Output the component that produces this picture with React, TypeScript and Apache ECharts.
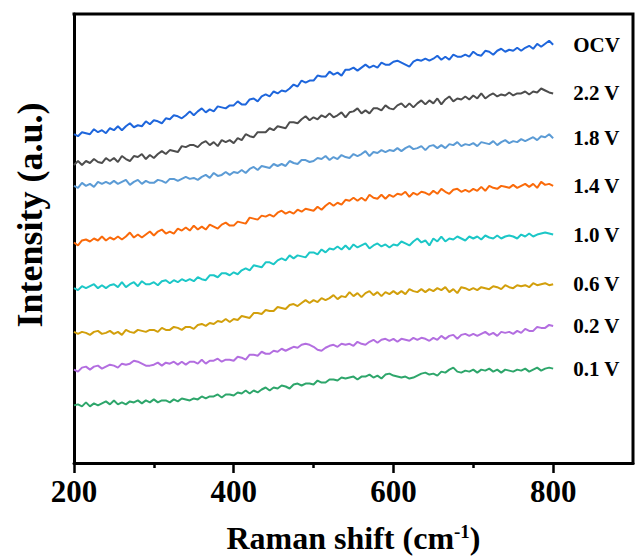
import React, { useEffect, useRef } from "react";
import * as echarts from "echarts";

const FONT = '"Liberation Serif", "Times New Roman", serif';

// Raman shift sampling grid (cm-1)
const RAMAN_SHIFT = [
  200, 205, 210, 215, 220, 225, 230, 235, 240, 245,
  250, 255, 260, 265, 270, 275, 280, 285, 290, 295,
  300, 305, 310, 315, 320, 325, 330, 335, 340, 345,
  350, 355, 360, 365, 370, 375, 380, 385, 390, 395,
  400, 405, 410, 415, 420, 425, 430, 435, 440, 445,
  450, 455, 460, 465, 470, 475, 480, 485, 490, 495,
  500, 505, 510, 515, 520, 525, 530, 535, 540, 545,
  550, 555, 560, 565, 570, 575, 580, 585, 590, 595,
  600, 605, 610, 615, 620, 625, 630, 635, 640, 645,
  650, 655, 660, 665, 670, 675, 680, 685, 690, 695,
  700, 705, 710, 715, 720, 725, 730, 735, 740, 745,
  750, 755, 760, 765, 770, 775, 780, 785, 790, 795,
  800,
];

// Stacked (offset) intensities, arbitrary units
const OCV = [
  331, 329, 333, 332, 331, 336, 333, 335, 332, 337,
  335, 339, 335, 339, 342, 338, 340, 339, 344, 341,
  345, 344, 342, 347, 346, 350, 349, 347, 350, 354,
  350, 354, 357, 353, 356, 354, 359, 358, 357, 360,
  360, 364, 361, 361, 366, 367, 364, 369, 371, 369,
  374, 372, 375, 374, 377, 381, 379, 385, 383, 385,
  385, 390, 389, 389, 394, 391, 393, 390, 396, 396,
  398, 395, 398, 401, 398, 400, 398, 403, 401, 401,
  404, 405, 403, 401, 399, 404, 406, 405, 407, 405,
  407, 410, 406, 409, 406, 411, 409, 409, 411, 409,
  414, 411, 410, 415, 414, 411, 415, 417, 414, 416,
  415, 418, 415, 418, 420, 417, 422, 419, 422, 425,
  421,
];

const V2_2 = [
  300, 304, 300, 304, 302, 306, 303, 302, 307, 304,
  307, 303, 309, 306, 304, 309, 308, 311, 306, 310,
  307, 311, 314, 311, 315, 314, 313, 319, 318, 320,
  320, 318, 322, 324, 320, 323, 319, 325, 323, 325,
  322, 327, 325, 331, 329, 328, 333, 333, 333, 337,
  335, 339, 338, 337, 343, 343, 342, 346, 349, 345,
  348, 346, 350, 348, 352, 348, 350, 353, 348, 353,
  354, 357, 352, 355, 352, 357, 357, 355, 360, 357,
  356, 360, 362, 358, 362, 358, 362, 365, 361, 365,
  362, 367, 361, 366, 369, 364, 367, 366, 369, 366,
  370, 367, 372, 367, 370, 372, 369, 371, 370, 373,
  370, 372, 372, 374, 371, 374, 373, 377, 375, 373,
  372,
];

const V1_8 = [
  279, 277, 282, 279, 281, 278, 283, 281, 283, 281,
  284, 281, 283, 285, 280, 283, 285, 281, 284, 282,
  282, 285, 284, 282, 286, 286, 284, 286, 288, 286,
  287, 285, 288, 290, 287, 292, 289, 290, 293, 290,
  293, 292, 295, 292, 296, 298, 295, 299, 298, 297,
  301, 299, 301, 299, 304, 302, 301, 305, 305, 303,
  304, 307, 306, 309, 305, 308, 306, 310, 308, 307,
  311, 309, 311, 314, 309, 313, 312, 315, 313, 315,
  314, 317, 314, 317, 319, 316, 317, 319, 315, 319,
  320, 317, 320, 317, 321, 320, 323, 319, 321, 320,
  322, 319, 323, 322, 321, 324, 320, 323, 325, 322,
  324, 323, 326, 324, 326, 328, 325, 329, 328, 331,
  327,
];

const V1_4 = [
  222, 219, 224, 225, 223, 226, 224, 228, 224, 227,
  225, 228, 225, 228, 232, 227, 230, 227, 230, 233,
  229, 233, 235, 231, 233, 231, 236, 234, 237, 234,
  239, 235, 238, 235, 240, 238, 236, 240, 242, 239,
  239, 243, 242, 241, 247, 246, 245, 249, 248, 250,
  248, 252, 254, 251, 253, 251, 255, 253, 256, 255,
  254, 258, 255, 259, 262, 259, 262, 260, 265, 264,
  267, 264, 267, 264, 270, 267, 266, 270, 266, 270,
  268, 271, 270, 273, 268, 272, 270, 273, 272, 270,
  274, 271, 276, 273, 271, 275, 276, 273, 275, 273,
  276, 274, 278, 274, 279, 277, 276, 279, 278, 277,
  280, 277, 279, 281, 278, 281, 277, 283, 280, 281,
  279,
];

const V1_0 = [
  176, 174, 178, 176, 178, 180, 176, 179, 176, 179,
  180, 177, 182, 177, 180, 182, 178, 183, 180, 180,
  182, 179, 183, 184, 181, 184, 182, 185, 183, 185,
  183, 187, 185, 184, 189, 189, 187, 191, 191, 189,
  192, 190, 194, 196, 194, 199, 198, 197, 202, 202,
  200, 204, 206, 204, 209, 206, 209, 208, 207, 212,
  212, 210, 215, 212, 216, 215, 218, 215, 219, 215,
  220, 217, 219, 221, 216, 219, 221, 218, 220, 217,
  220, 219, 223, 221, 219, 223, 226, 222, 224, 219,
  226, 223, 228, 223, 226, 225, 228, 226, 224, 228,
  226, 228, 225, 229, 227, 226, 229, 226, 228, 229,
  228, 226, 230, 228, 231, 228, 230, 231, 232, 231,
  230,
];

const V0_6 = [
  132, 130, 132, 131, 129, 132, 133, 130, 131, 133,
  130, 132, 129, 134, 132, 131, 134, 133, 132, 134,
  134, 132, 136, 134, 134, 137, 136, 134, 137, 137,
  135, 139, 140, 138, 141, 140, 143, 142, 145, 142,
  145, 144, 148, 147, 146, 151, 151, 150, 154, 153,
  153, 157, 156, 155, 159, 160, 158, 161, 164, 161,
  164, 162, 166, 164, 166, 169, 165, 168, 167, 172,
  168, 171, 167, 171, 173, 169, 172, 168, 172, 170,
  173, 170, 173, 170, 175, 173, 172, 175, 172, 175,
  173, 176, 174, 177, 172, 175, 171, 177, 176, 174,
  176, 174, 177, 176, 175, 178, 177, 175, 179, 177,
  176, 179, 178, 179, 177, 181, 179, 180, 181, 179,
  180,
];

const V0_2 = [
  94, 92, 96, 97, 94, 97, 98, 95, 97, 99,
  98, 96, 100, 99, 100, 103, 102, 100, 98, 98,
  99, 101, 98, 101, 100, 102, 99, 102, 99, 102,
  102, 100, 104, 100, 103, 103, 105, 102, 104, 104,
  103, 107, 106, 104, 109, 109, 108, 112, 110, 110,
  113, 112, 115, 113, 115, 117, 116, 119, 120, 119,
  117, 114, 113, 116, 118, 119, 117, 120, 119, 120,
  118, 122, 120, 119, 122, 124, 121, 124, 125, 123,
  125, 122, 125, 124, 123, 126, 124, 126, 125, 123,
  126, 124, 128, 125, 128, 129, 125, 129, 130, 128,
  130, 128, 130, 132, 129, 131, 128, 132, 131, 132,
  130, 133, 131, 135, 133, 133, 137, 136, 136, 139,
  138,
];

const V0_1 = [
  58, 59, 57, 61, 57, 60, 58, 60, 62, 59,
  63, 59, 61, 59, 62, 61, 63, 60, 63, 61,
  64, 61, 63, 63, 61, 64, 62, 65, 64, 63,
  65, 64, 67, 65, 67, 67, 69, 66, 69, 69,
  68, 71, 70, 73, 70, 73, 71, 74, 76, 73,
  76, 75, 78, 77, 75, 79, 80, 78, 80, 80,
  79, 83, 81, 81, 84, 84, 83, 86, 85, 86,
  87, 84, 87, 87, 89, 86, 88, 85, 89, 90,
  88, 87, 86, 87, 85, 86, 88, 90, 91, 89,
  90, 88, 92, 91, 94, 96, 92, 91, 93, 92,
  94, 91, 94, 93, 95, 92, 94, 91, 94, 93,
  92, 94, 93, 95, 92, 94, 96, 93, 95, 96,
  95,
];

const SERIES_NAMES = ["OCV", "2.2 V", "1.8 V", "1.4 V", "1.0 V", "0.6 V", "0.2 V", "0.1 V"];
const SERIES_VALUES = [OCV, V2_2, V1_8, V1_4, V1_0, V0_6, V0_2, V0_1];
const SERIES_COLORS = ["#1e66dc", "#4d4d4d", "#5b9bd5", "#fa6a0a", "#1cc7c7", "#d29f0b", "#b36ee0", "#2ea66b"];

const MAJOR_TICKS = [200, 400, 600, 800];
const MINOR_TICKS = [300, 500, 700];

// axis extents
const X_MIN = 200;
const X_MAX = 900;
const Y_MIN = 0;
const Y_MAX = 452;

const Y_TITLE = "Intensity (a.u.)";

// plot box (px)
const GRID = { left: 74, right: 2, top: 14, bottom: 94 };
const W = 635;
const H = 559;

export default function App() {
  const ref = useRef<HTMLDivElement>(null);

  useEffect(() => {
    if (!ref.current) return;
    const chart = echarts.init(ref.current, null, { renderer: "svg" });

    const spectra = SERIES_NAMES.map((name, i) => ({
      name,
      type: "line",
      data: RAMAN_SHIFT.map((x, j) => [x, SERIES_VALUES[i][j]]),
      showSymbol: false,
      symbol: "none",
      silent: true,
      lineStyle: { color: SERIES_COLORS[i], width: 2 },
      itemStyle: { color: SERIES_COLORS[i] },
      endLabel: {
        show: true,
        formatter: "{a}",
        distance: 20,
        color: "#000",
        fontSize: 21,
        fontWeight: "bold",
        fontFamily: FONT,
      },
      emphasis: { disabled: true },
    }));

    // closing edges of the plot frame (top and right), along the axis extents
    const frame = {
      name: "frame",
      type: "line",
      data: [
        [X_MIN, Y_MAX],
        [X_MAX, Y_MAX],
        [X_MAX, Y_MIN],
      ],
      showSymbol: false,
      symbol: "none",
      silent: true,
      clip: false,
      z: 5,
      lineStyle: { color: "#000", width: 3, cap: "square", join: "miter" },
      emphasis: { disabled: true },
    };

    chart.setOption({
      animation: false,
      backgroundColor: "#fff",
      grid: { ...GRID, containLabel: false },
      xAxis: [
        {
          type: "value",
          min: X_MIN,
          max: X_MAX,
          interval: 100,
          position: "bottom",
          name: "Raman shift (cm{sup|-1})",
          nameLocation: "middle",
          nameGap: 59,
          nameTextStyle: {
            color: "#000",
            fontSize: 32,
            fontWeight: "bold",
            fontFamily: FONT,
            rich: {
              sup: {
                color: "#000",
                fontSize: 19,
                fontWeight: "bold",
                fontFamily: FONT,
                verticalAlign: "top",
              },
            },
          },
          axisLine: { show: true, onZero: false, lineStyle: { color: "#000", width: 3 } },
          axisTick: {
            show: true,
            length: 10,
            customValues: MAJOR_TICKS,
            lineStyle: { color: "#000", width: 2.5 },
          },
          axisLabel: {
            show: true,
            customValues: MAJOR_TICKS,
            margin: 13,
            color: "#000",
            fontSize: 31,
            fontWeight: "bold",
            fontFamily: FONT,
          },
          splitLine: { show: false },
        },
        {
          type: "value",
          min: X_MIN,
          max: X_MAX,
          interval: 100,
          position: "bottom",
          axisLine: { show: false },
          axisTick: {
            show: true,
            length: 5,
            customValues: MINOR_TICKS,
            lineStyle: { color: "#000", width: 2.5 },
          },
          axisLabel: { show: false },
          splitLine: { show: false },
        },
      ],
      yAxis: {
        type: "value",
        min: Y_MIN,
        max: Y_MAX,
        axisLine: { show: true, onZero: false, lineStyle: { color: "#000", width: 3 } },
        axisTick: { show: false },
        axisLabel: { show: false },
        splitLine: { show: false },
      },
      graphic: {
        elements: [
          {
            type: "text",
            id: "y-title",
            silent: true,
            x: 30,
            y: 215,
            rotation: Math.PI / 2,
            style: {
              text: Y_TITLE,
              fill: "#000",
              font: `bold 36px ${FONT}`,
              align: "center",
              verticalAlign: "middle",
            },
          },
        ],
      },
      series: [...spectra, frame],
    });

    return () => chart.dispose();
  }, []);

  return (
    <div
      ref={ref}
      style={{ position: "fixed", left: 0, top: 0, width: W, height: H }}
    />
  );
}
